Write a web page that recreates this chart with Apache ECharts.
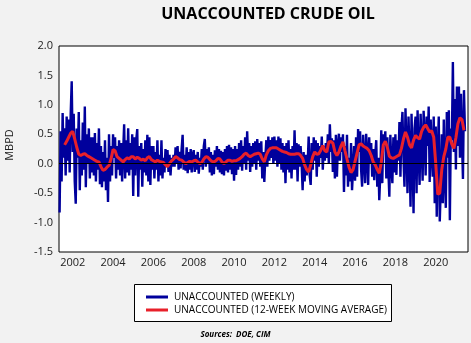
<!DOCTYPE html>
<html>
<head>
<meta charset="utf-8">
<script src="https://cdn.jsdelivr.net/npm/echarts@6/dist/echarts.min.js"></script>
<style>
html,body{margin:0;padding:0;background:#f2f2f2;}
#chart{width:471px;height:343px;}
</style>
</head>
<body>
<div id="chart"></div>
<script>
// ---- Data ----
const title = 'UNACCOUNTED CRUDE OIL';
const yAxisName = 'MBPD';
const sourceText = 'Sources:  DOE, CIM';
const seriesNames = ['UNACCOUNTED (WEEKLY)', 'UNACCOUNTED (12-WEEK MOVING AVERAGE)'];
const yearTicks = [2002, 2004, 2006, 2008, 2010, 2012, 2014, 2016, 2018, 2020];

// weekly series, sampled every 0.05 year starting 2001.35
const weeklyStart = 2001.35, weeklyStep = 0.05;
const weekly2001 = [-0.83, 0.55, -0.30, 0.86, 0.10, 0.60, -0.20, 0.80, 0.05, 0.75, -0.15, 0.85, 1.40];
const weekly2002 = [0.20, 0.85, -0.30, -0.68, 0.60, 0.10, 0.88, -0.45, 0.40, -0.20, 0.70, -0.10, 0.97, -0.40, 0.50, 0.00, 0.60, -0.25, 0.45, -0.15];
const weekly2003 = [0.45, -0.20, 0.52, -0.30, 0.35, -0.10, 0.60, -0.35, 0.30, -0.40, 0.20, -0.30, 0.40, -0.45, 0.10, -0.65, 0.50, -0.30, 0.30, -0.20];
const weekly2004 = [0.50, 0.10, 0.45, -0.25, 0.30, -0.10, 0.40, -0.20, 0.35, -0.30, 0.20, 0.67, -0.25, 0.40, -0.15, 0.60, -0.20, 0.35, -0.10, 0.50];
const weekly2005 = [-0.55, 0.45, -0.20, 0.40, 0.59, -0.56, 0.30, -0.10, 0.35, -0.39, 0.25, -0.15, 0.40, -0.20, 0.49, -0.30, 0.45, -0.36, 0.30, -0.10];
const weekly2006 = [0.30, -0.25, 0.20, -0.10, 0.40, -0.30, 0.15, -0.20, 0.40, -0.25, 0.10, -0.15, 0.25, -0.05, 0.23, -0.14, 0.15, -0.20, 0.10, -0.05];
const weekly2007 = [0.15, -0.05, 0.28, 0.00, 0.30, -0.10, 0.20, -0.08, 0.25, 0.49, -0.10, 0.15, -0.12, 0.28, -0.16, 0.20, -0.10, 0.25, -0.15, 0.15];
const weekly2008 = [0.23, -0.14, 0.15, -0.10, 0.20, -0.17, 0.10, -0.05, 0.25, -0.10, 0.30, 0.42, -0.05, 0.25, 0.00, 0.28, -0.15, 0.20, -0.20, 0.15];
const weekly2009 = [-0.18, 0.23, -0.05, 0.30, -0.10, 0.25, -0.15, 0.22, -0.18, 0.20, -0.20, 0.25, -0.12, 0.30, -0.15, 0.32, -0.10, 0.28, -0.18, 0.25];
const weekly2010 = [-0.29, 0.30, -0.19, 0.25, -0.10, 0.35, -0.05, 0.40, -0.12, 0.30, 0.00, 0.45, -0.10, 0.55, 0.05, 0.35, -0.14, 0.30, -0.05, 0.35];
const weekly2011 = [0.00, 0.38, -0.10, 0.42, 0.05, 0.35, -0.05, 0.38, -0.25, 0.20, -0.31, 0.10, 0.40, -0.05, 0.46, 0.05, 0.40, 0.10, 0.45, 0.00];
const weekly2012 = [0.46, 0.05, 0.40, -0.05, 0.46, 0.00, 0.43, -0.10, 0.35, -0.15, 0.30, -0.33, 0.35, -0.10, 0.40, -0.15, 0.25, -0.25, 0.30, -0.10];
const weekly2013 = [0.57, -0.10, 0.35, -0.30, 0.33, -0.05, 0.30, 0.00, -0.45, 0.20, -0.30, 0.15, -0.20, 0.00, 0.46, -0.20, -0.36, 0.35, -0.10, 0.45];
const weekly2014 = [0.05, 0.40, -0.22, 0.35, -0.05, 0.30, 0.10, 0.46, -0.10, 0.30, 0.05, 0.35, 0.10, 0.50, 0.00, 0.67, 0.20, 0.43, -0.14, 0.40];
const weekly2015 = [-0.25, 0.49, -0.22, 0.30, 0.51, 0.05, 0.45, 0.20, 0.50, -0.48, 0.30, -0.20, 0.49, -0.39, 0.10, -0.30, 0.35, -0.45, -0.10, 0.30];
const weekly2016 = [-0.29, 0.45, -0.22, 0.59, 0.20, 0.55, -0.10, -0.39, 0.49, 0.10, -0.33, 0.51, 0.20, -0.36, 0.45, 0.00, 0.35, -0.22, 0.25, -0.28];
const weekly2017 = [0.15, 0.40, -0.39, 0.10, -0.62, -0.20, 0.57, -0.33, 0.50, 0.30, 0.55, -0.25, 0.45, -0.10, -0.56, 0.49, 0.00, -0.33, 0.45, -0.15];
const weekly2018 = [0.50, -0.19, 0.40, 0.05, 0.71, -0.22, 0.60, 0.88, 0.10, -0.39, 0.94, 0.30, -0.50, 0.80, 0.20, -0.73, 0.85, 0.10, -0.84, 0.60];
const weekly2019 = [0.80, -0.50, 0.91, 0.20, -0.36, 0.85, 0.30, -0.29, 0.90, 0.45, -0.20, 0.80, 0.30, 0.97, -0.31, 0.75, 0.20, -0.22, 0.80, -0.67];
const weekly2020 = [0.63, -0.90, 0.20, 0.80, -0.98, -0.40, 0.50, -0.67, 0.75, -0.20, -0.75, 0.88, 0.10, 0.91, -0.96, 0.60, 0.40, 1.73, 0.20, 1.10];
const weekly2021 = [-0.10, 1.31, 0.30, 1.31, 0.10, 1.19, 0.40, -0.26, 1.25, 0.55];

// 12-week moving average, sampled every 0.1 year starting 2001.6
const maStart = 2001.6, maStep = 0.1;
const ma2001 = [0.32, 0.38, 0.45, 0.52];
const ma2002 = [0.55, 0.42, 0.28, 0.16, 0.14, 0.16, 0.17, 0.14, 0.12, 0.10];
const ma2003 = [0.08, 0.06, 0.04, 0.03, -0.05, -0.11, -0.10, -0.06, -0.03, 0.08];
const ma2004 = [0.24, 0.22, 0.12, 0.09, 0.06, 0.03, 0.07, 0.10, 0.08, 0.12];
const ma2005 = [0.12, 0.08, 0.11, 0.09, 0.06, 0.08, 0.05, 0.10, 0.12, 0.07];
const ma2006 = [0.05, 0.03, 0.06, 0.04, 0.03, 0.02, -0.02, -0.05, 0.00, 0.05];
const ma2007 = [0.08, 0.12, 0.10, 0.07, 0.06, 0.03, 0.00, 0.02, 0.04, 0.03];
const ma2008 = [0.05, 0.06, 0.03, 0.00, 0.02, 0.08, 0.12, 0.11, 0.07, 0.04];
const ma2009 = [0.03, 0.05, 0.09, 0.08, 0.03, 0.00, 0.03, 0.06, 0.06, 0.04];
const ma2010 = [0.05, 0.05, 0.07, 0.09, 0.12, 0.16, 0.18, 0.14, 0.12, 0.14];
const ma2011 = [0.16, 0.17, 0.18, 0.16, 0.08, 0.03, 0.15, 0.22, 0.26, 0.27];
const ma2012 = [0.27, 0.27, 0.25, 0.23, 0.21, 0.20, 0.19, 0.17, 0.16, 0.16];
const ma2013 = [0.16, 0.17, 0.17, 0.14, 0.09, -0.02, -0.10, -0.14, -0.02, 0.12];
const ma2014 = [0.20, 0.16, 0.17, 0.23, 0.31, 0.22, 0.20, 0.37, 0.38, 0.35];
const ma2015 = [0.20, 0.14, 0.20, 0.30, 0.37, 0.22, 0.08, -0.06, -0.15, -0.10];
const ma2016 = [0.04, 0.18, 0.32, 0.34, 0.30, 0.28, 0.26, 0.22, 0.14, 0.03];
const ma2017 = [-0.02, -0.10, -0.16, 0.02, 0.32, 0.38, 0.28, 0.13, 0.10, 0.09];
const ma2018 = [0.11, 0.13, 0.15, 0.26, 0.42, 0.54, 0.45, 0.32, 0.27, 0.40];
const ma2019 = [0.48, 0.44, 0.42, 0.55, 0.62, 0.66, 0.60, 0.54, 0.56, 0.45];
const ma2020 = [0.00, -0.52, -0.50, -0.10, 0.12, 0.25, 0.45, 0.45, 0.33, 0.26];
const ma2021 = [0.44, 0.68, 0.78, 0.75, 0.57];

// ---- Build series ----
const weeklyValues = [].concat(weekly2001, weekly2002, weekly2003, weekly2004, weekly2005, weekly2006,
  weekly2007, weekly2008, weekly2009, weekly2010, weekly2011, weekly2012, weekly2013, weekly2014,
  weekly2015, weekly2016, weekly2017, weekly2018, weekly2019, weekly2020, weekly2021);
const maValues = [].concat(ma2001, ma2002, ma2003, ma2004, ma2005, ma2006, ma2007, ma2008, ma2009,
  ma2010, ma2011, ma2012, ma2013, ma2014, ma2015, ma2016, ma2017, ma2018, ma2019, ma2020, ma2021);

const weeklyData = weeklyValues.map((v, i) => [+(weeklyStart + i * weeklyStep).toFixed(3), v]);
const maData = maValues.map((v, i) => [+(maStart + i * maStep).toFixed(3), v]);

const FONT = '"Open Sans", "DejaVu Sans", sans-serif';
const BLUE = '#00009c', RED = '#e8202a';
const chart = echarts.init(document.getElementById('chart'), null, {renderer: 'canvas'});
chart.setOption({
  backgroundColor: '#f2f2f2',
  animation: false,
  title: {
    text: title,
    left: 263, top: 1, textAlign: 'center',
    textStyle: {fontFamily: FONT, fontWeight: 'bold', fontSize: 16, color: '#000'}
  },
  grid: {
    left: 59, right: 3, top: 46, bottom: 91,
    show: true, backgroundColor: '#ffffff', borderColor: '#000', borderWidth: 1
  },
  legend: {
    left: 141, top: 287, orient: 'vertical',
    icon: 'rect', itemWidth: 22, itemHeight: 3, itemGap: 3,
    data: seriesNames,
    textStyle: {fontFamily: FONT, fontSize: 10, color: '#000', padding: [0, 0, 0, 1]}
  },
  xAxis: {
    type: 'value', min: 2001.32, max: 2021.6,
    axisLine: {show: false}, axisTick: {show: false}, splitLine: {show: false},
    axisLabel: {
      customValues: yearTicks, margin: 5,
      fontFamily: FONT, fontSize: 11, color: '#222',
      formatter: v => String(Math.round(v))
    }
  },
  yAxis: {
    type: 'value', min: -1.5, max: 2.0, interval: 0.5,
    axisLine: {show: false}, axisTick: {show: false}, splitLine: {show: false},
    axisLabel: {
      margin: 6, fontFamily: FONT, fontSize: 11, color: '#222',
      formatter: v => v.toFixed(1)
    }
  },
  graphic: [
    {type: 'rect', left: 134, top: 284, z: -1, shape: {width: 257, height: 37},
     style: {fill: '#fff', stroke: '#000', lineWidth: 1}},
    {type: 'text', z: 10, x: 10, y: 145, rotation: Math.PI / 2,
     style: {text: yAxisName, fontFamily: FONT, fontSize: 11, fill: '#222', align: 'center', verticalAlign: 'middle'}},
    {type: 'text', left: 'center', top: 331,
     style: {text: sourceText, fontFamily: FONT, fontSize: 8, fontStyle: 'italic', fontWeight: 'bold', fill: '#000'}}
  ],
  series: [
    {
      name: seriesNames[0], type: 'line', data: weeklyData, symbol: 'none',
      lineStyle: {color: BLUE, width: 2.4}, itemStyle: {color: BLUE},
      z: 2,
      markLine: {
        silent: true, symbol: 'none', label: {show: false},
        lineStyle: {color: '#000', width: 1, type: 'solid'},
        data: [{yAxis: 0}]
      }
    },
    {
      name: seriesNames[1], type: 'line', data: maData, symbol: 'none',
      lineStyle: {color: RED, width: 3}, itemStyle: {color: RED},
      z: 3
    }
  ]
});
</script>
</body>
</html>
